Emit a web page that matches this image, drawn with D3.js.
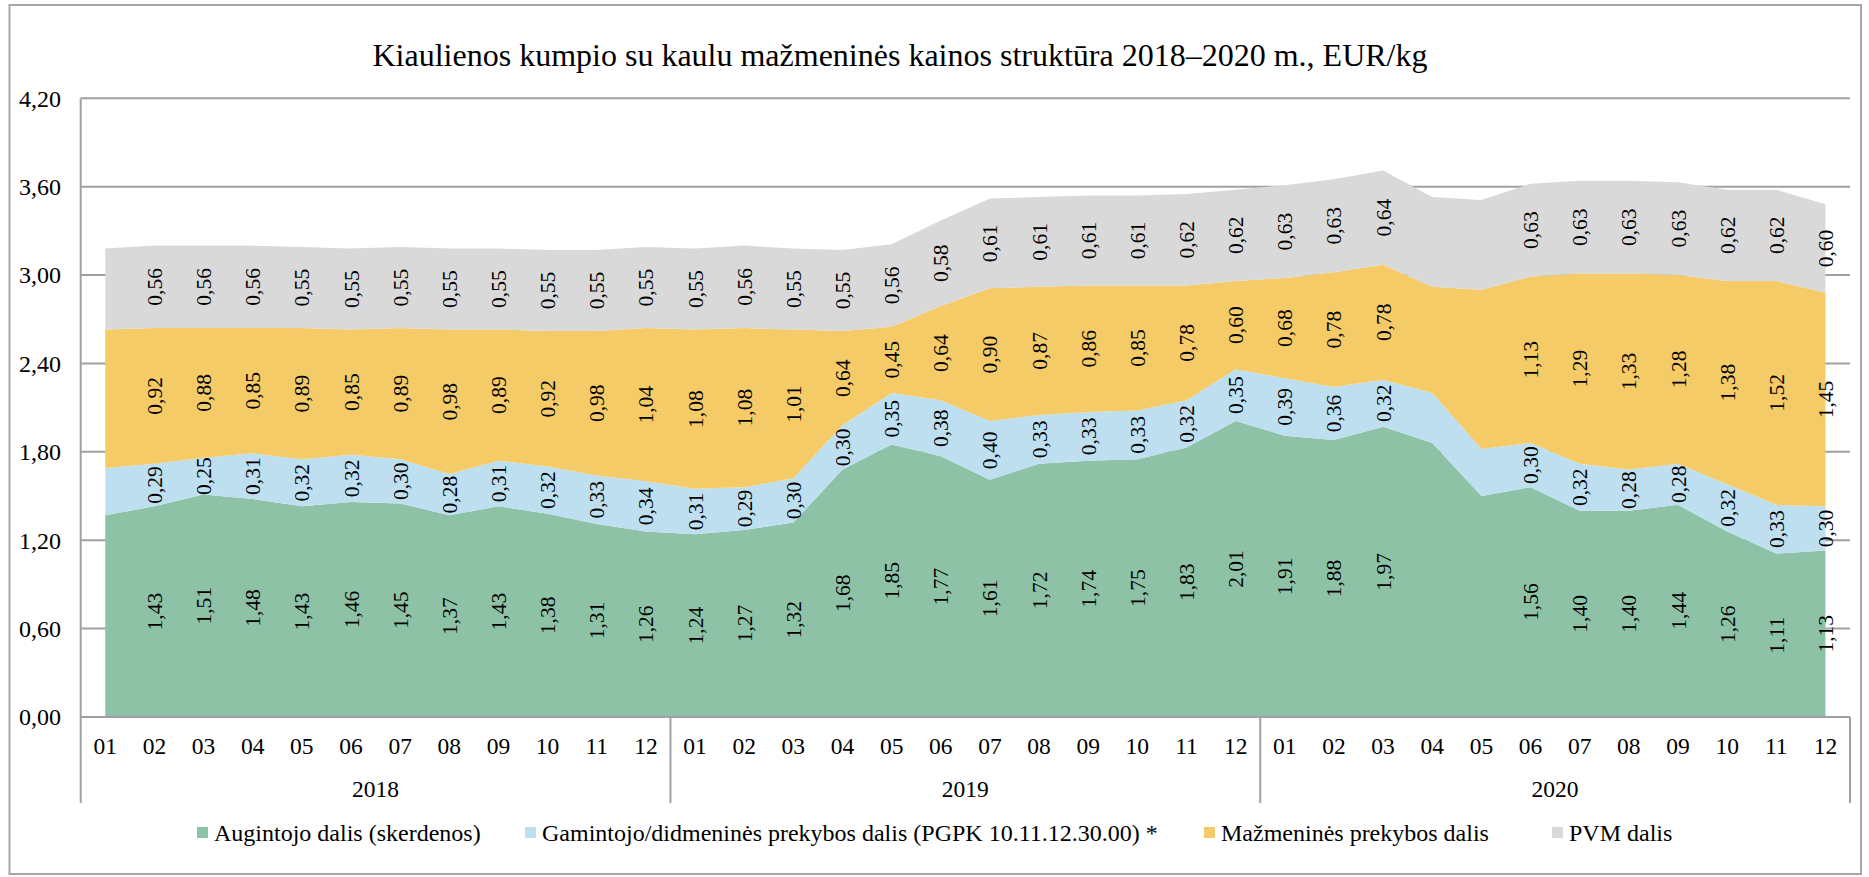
<!DOCTYPE html>
<html>
<head>
<meta charset="utf-8">
<script src="https://cdn.jsdelivr.net/npm/d3@7"></script>
<style>
  html, body { margin: 0; padding: 0; background: #fff; }
  svg { display: block; font-family: "Liberation Serif", "Times New Roman", serif; }
</style>
</head>
<body>
<svg id="chart" width="1869" height="877"></svg>
<script>
// months and years of the multi level category axis
var years = ["2018", "2019", "2020"];
var months = ["01", "02", "03", "04", "05", "06", "07", "08", "09", "10", "11", "12"];

// price parts, EUR/kg, one value per month from 2018-01 to 2020-12
var augintojo = [
    1.37, 1.43, 1.51, 1.48, 1.43, 1.46, 1.45, 1.37, 1.43, 1.38, 1.31, 1.26,
    1.24, 1.27, 1.32, 1.68, 1.85, 1.77, 1.61, 1.72, 1.74, 1.75, 1.83, 2.01,
    1.91, 1.88, 1.97, 1.86, 1.50, 1.56, 1.40, 1.40, 1.44, 1.26, 1.11, 1.13];
var gamintojo = [
    0.32, 0.29, 0.25, 0.31, 0.32, 0.32, 0.30, 0.28, 0.31, 0.32, 0.33, 0.34,
    0.31, 0.29, 0.30, 0.30, 0.35, 0.38, 0.40, 0.33, 0.33, 0.33, 0.32, 0.35,
    0.39, 0.36, 0.32, 0.34, 0.32, 0.30, 0.32, 0.28, 0.28, 0.32, 0.33, 0.30];
var mazmenines = [
    0.94, 0.92, 0.88, 0.85, 0.89, 0.85, 0.89, 0.98, 0.89, 0.92, 0.98, 1.04,
    1.08, 1.08, 1.01, 0.64, 0.45, 0.64, 0.90, 0.87, 0.86, 0.85, 0.78, 0.60,
    0.68, 0.78, 0.78, 0.72, 1.08, 1.13, 1.29, 1.33, 1.28, 1.38, 1.52, 1.45];
var pvm = [
    0.55, 0.56, 0.56, 0.56, 0.55, 0.55, 0.55, 0.55, 0.55, 0.55, 0.55, 0.55,
    0.55, 0.56, 0.55, 0.55, 0.56, 0.58, 0.61, 0.61, 0.61, 0.61, 0.62, 0.62,
    0.63, 0.63, 0.64, 0.61, 0.61, 0.63, 0.63, 0.63, 0.63, 0.62, 0.62, 0.60];

// months that carry no data labels in the original
var hideLabels = [0, 27, 28];

var seriesNames = [
    "Augintojo dalis (skerdenos)",
    "Gamintojo/didmeninės prekybos dalis (PGPK 10.11.12.30.00) *",
    "Mažmeninės prekybos dalis",
    "PVM dalis"];
var yTicks = [0, 0.6, 1.2, 1.8, 2.4, 3.0, 3.6, 4.2];

var title = "Kiaulienos kumpio su kaulu mažmeninės kainos struktūra 2018–2020 m., EUR/kg";

var colors = ["#8ec2a6", "#bddff0", "#f5cb67", "#d9d9d9"];
var axisColor = "#a0a0a0";

var svg = d3.select("#chart");
var plot = {left: 80.7, right: 1850, top: 98.3, bottom: 717};

var rows = d3.range(augintojo.length).map(function (i) {
    return {i: i, a: augintojo[i], g: gamintojo[i], m: mazmenines[i], p: pvm[i]};
});
var keys = ["a", "g", "m", "p"];
var stacked = d3.stack().keys(keys)(rows);

var x = d3.scaleBand().domain(d3.range(rows.length)).range([plot.left, plot.right]);
var bw = x.bandwidth();
function cx(i) { return x(i) + bw / 2; }

var y = d3.scaleLinear().domain([0, 4.2]).range([plot.bottom, plot.top]);

var fmt = function (v) { return d3.format(".2f")(v).replace(".", ","); };

// outer frame
svg.append("rect")
    .attr("x", 9.5).attr("y", 5).attr("width", 1851.5).attr("height", 869)
    .attr("fill", "none").attr("stroke", "#a6a6a6").attr("stroke-width", 2);

svg.append("text")
    .attr("x", 900).attr("y", 66)
    .attr("text-anchor", "middle")
    .attr("font-size", 32)
    .text(title);

// grid
svg.append("g").selectAll("line")
    .data(yTicks.slice(1))
    .enter().append("line")
    .attr("x1", plot.left).attr("x2", plot.right)
    .attr("y1", function (d) { return y(d); })
    .attr("y2", function (d) { return y(d); })
    .attr("stroke", axisColor).attr("stroke-width", 2);

svg.append("g").selectAll("text")
    .data(yTicks)
    .enter().append("text")
    .attr("x", 61).attr("y", function (d) { return y(d); })
    .attr("dy", "0.35em")
    .attr("text-anchor", "end")
    .attr("font-size", 24)
    .text(fmt);

// areas
var area = d3.area()
    .x(function (d) { return cx(d.data.i); })
    .y0(function (d) { return y(d[0]); })
    .y1(function (d) { return y(d[1]); });

svg.append("g").selectAll("path")
    .data(stacked)
    .enter().append("path")
    .attr("fill", function (d, k) { return colors[k]; })
    .attr("d", area);

// data labels
var labels = svg.append("g").attr("font-size", 21.5);
stacked.forEach(function (layer) {
    layer.forEach(function (d) {
        if (hideLabels.indexOf(d.data.i) >= 0) return;
        var px = cx(d.data.i), py = y((d[0] + d[1]) / 2);
        labels.append("text")
            .attr("transform", "translate(" + px + "," + py + ") rotate(-90)")
            .attr("text-anchor", "middle")
            .attr("dy", "0.35em")
            .text(fmt(d[1] - d[0]));
    });
});

// y axis and category axis
svg.append("line")
    .attr("x1", plot.left).attr("x2", plot.left).attr("y1", plot.top).attr("y2", plot.bottom)
    .attr("stroke", axisColor).attr("stroke-width", 2);
svg.append("line")
    .attr("x1", plot.left).attr("x2", plot.right).attr("y1", plot.bottom).attr("y2", plot.bottom)
    .attr("stroke", axisColor).attr("stroke-width", 2);

var xa = svg.append("g").attr("font-size", 23.5).attr("text-anchor", "middle");
xa.selectAll("text.m")
    .data(rows)
    .enter().append("text")
    .attr("class", "m")
    .attr("x", function (d) { return cx(d.i); })
    .attr("y", 746).attr("dy", "0.35em")
    .text(function (d) { return months[d.i % 12]; });

xa.selectAll("text.yr")
    .data(years)
    .enter().append("text")
    .attr("class", "yr")
    .attr("x", function (d, k) { return (x(k * 12) + x(k * 12 + 11) + bw) / 2; })
    .attr("y", 789).attr("dy", "0.35em")
    .text(function (d) { return d; });

svg.append("g").selectAll("line")
    .data(d3.range(years.length + 1))
    .enter().append("line")
    .attr("x1", function (k) { return k < years.length ? x(k * 12) : plot.right; })
    .attr("x2", function (k) { return k < years.length ? x(k * 12) : plot.right; })
    .attr("y1", plot.bottom).attr("y2", 803)
    .attr("stroke", axisColor).attr("stroke-width", 2);

// legend
var legendX = [197, 525, 1204, 1552];
var lg = svg.append("g").attr("font-size", 24);
seriesNames.forEach(function (name, k) {
    lg.append("rect")
        .attr("x", legendX[k]).attr("y", 827)
        .attr("width", 11).attr("height", 11)
        .attr("fill", colors[k]);
    lg.append("text")
        .attr("x", legendX[k] + 17).attr("y", 833)
        .attr("dy", "0.35em")
        .text(name);
});
</script>
</body>
</html>
